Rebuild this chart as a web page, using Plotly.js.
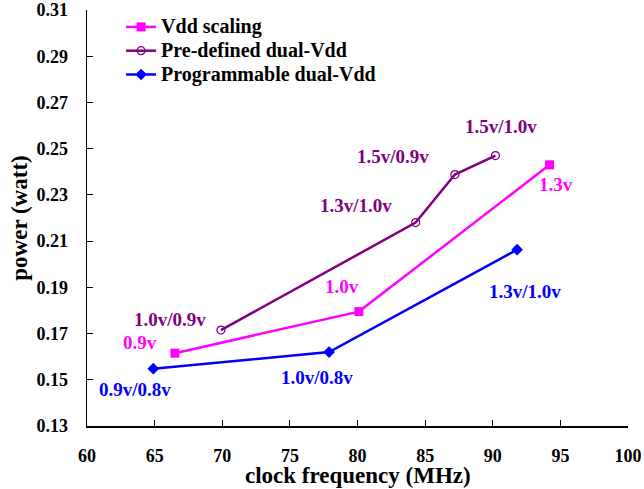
<!DOCTYPE html>
<html>
<head>
<meta charset="utf-8">
<script src="https://cdn.plot.ly/plotly-3.0.1.min.js"></script>
<style>body{margin:0;padding:0;background:#fff;}#chart{width:644px;height:489px;}</style>
</head>
<body>
<div id="chart"></div>
<script>
// Data
const vddFreq = [66.5, 80.1, 94.2];
const vddPower = [0.1615, 0.1795, 0.2430];
const vddLabels = ["0.9v", "1.0v", "1.3v"];

const preFreq = [69.9, 84.3, 87.2, 90.2];
const prePower = [0.1715, 0.2180, 0.2388, 0.2470];
const preLabels = ["1.0v/0.9v", "1.3v/1.0v", "1.5v/0.9v", "1.5v/1.0v"];

const progFreq = [64.9, 77.9, 91.8];
const progPower = [0.1548, 0.1620, 0.2063];
const progLabels = ["0.9v/0.8v", "1.0v/0.8v", "1.3v/1.0v"];

const xTicks = [60, 65, 70, 75, 80, 85, 90, 95, 100];
const yTicks = [0.13, 0.15, 0.17, 0.19, 0.21, 0.23, 0.25, 0.27, 0.29, 0.31];

// label placement (data coordinates) for each point's voltage label
const vddLabelPos = [[63.9, 0.1660], [78.85, 0.1905], [94.7, 0.2343]];
const preLabelPos = [[66.15, 0.1760], [79.9, 0.2252], [82.6, 0.2465], [90.6, 0.2596]];
const progLabelPos = [[63.55, 0.1457], [77.0, 0.1509], [92.4, 0.1883]];

const MAG = "#FF00FF", PUR = "#800080", BLU = "#0000FF";
const FONT = "Liberation Serif, Times New Roman, serif";

function legName(t) { return '<span style="font-size:20px"><b>' + t + '</b></span>'; }

const traces = [
  {x: vddFreq, y: vddPower, name: legName("Vdd scaling"), mode: "lines+markers", type: "scatter",
   line: {color: MAG, width: 2.5}, marker: {symbol: "square", size: 9, color: MAG}},
  {x: preFreq, y: prePower, name: legName("Pre-defined dual-Vdd"), mode: "lines+markers", type: "scatter",
   line: {color: PUR, width: 2.5}, marker: {symbol: "circle-open", size: 8, color: PUR, line: {width: 1.2, color: PUR}}},
  {x: progFreq, y: progPower, name: legName("Programmable dual-Vdd"), mode: "lines+markers", type: "scatter",
   line: {color: BLU, width: 2.5}, marker: {symbol: "diamond", size: 9, color: BLU}}
];

const annotations = [];
function addLabels(labels, pos, color) {
  labels.forEach((t, i) => annotations.push({
    x: pos[i][0], y: pos[i][1], xref: "x", yref: "y", text: "<b>" + t + "</b>",
    showarrow: false, font: {family: FONT, size: 19, color: color}
  }));
}
addLabels(vddLabels, vddLabelPos, MAG);
addLabels(preLabels, preLabelPos, PUR);
addLabels(progLabels, progLabelPos, BLU);

// x-axis title placed as an annotation so it can sit close to the tick labels
annotations.push({
  x: 0.5, y: -0.118, xref: "paper", yref: "paper", xanchor: "center", yanchor: "middle",
  text: "<b>clock frequency (MHz)</b>", showarrow: false,
  font: {family: FONT, size: 23, color: "#000"}
});

const layout = {
  width: 644, height: 489,
  margin: {l: 87, r: 16, t: 10, b: 63},
  paper_bgcolor: "#fff", plot_bgcolor: "#fff",
  font: {family: FONT, color: "#000"},
  showlegend: true,
  legend: {x: 0.063, y: 1.0, xanchor: "left", yanchor: "top", bgcolor: "rgba(0,0,0,0)",
           font: {family: FONT, size: 16, color: "#000"}, tracegroupgap: 0, itemwidth: 30},
  xaxis: {range: [60, 100], tickvals: xTicks, ticktext: xTicks.map(v => "<b>" + v + "</b>"),
          showgrid: false, zeroline: false, showline: true, linecolor: "#000", linewidth: 1.5,
          ticks: "inside", ticklen: 6, tickcolor: "#000", tickwidth: 1,
          tickfont: {family: FONT, size: 18, color: "#000"}, ticklabelstandoff: 13},
  yaxis: {range: [0.13, 0.31], tickvals: yTicks, ticktext: yTicks.map(v => "<b>" + v.toFixed(2) + "</b>"),
          showgrid: false, zeroline: false, showline: true, linecolor: "#000", linewidth: 1.5,
          ticks: "inside", ticklen: 6, tickcolor: "#000", tickwidth: 1,
          tickfont: {family: FONT, size: 18, color: "#000"}, ticklabelstandoff: 14,
          title: {text: "<b>power (watt)</b>", font: {family: FONT, size: 23, color: "#000"}, standoff: 2}},
  annotations: annotations
};

Plotly.newPlot("chart", traces, layout, {displayModeBar: false, staticPlot: true});
</script>
</body>
</html>
